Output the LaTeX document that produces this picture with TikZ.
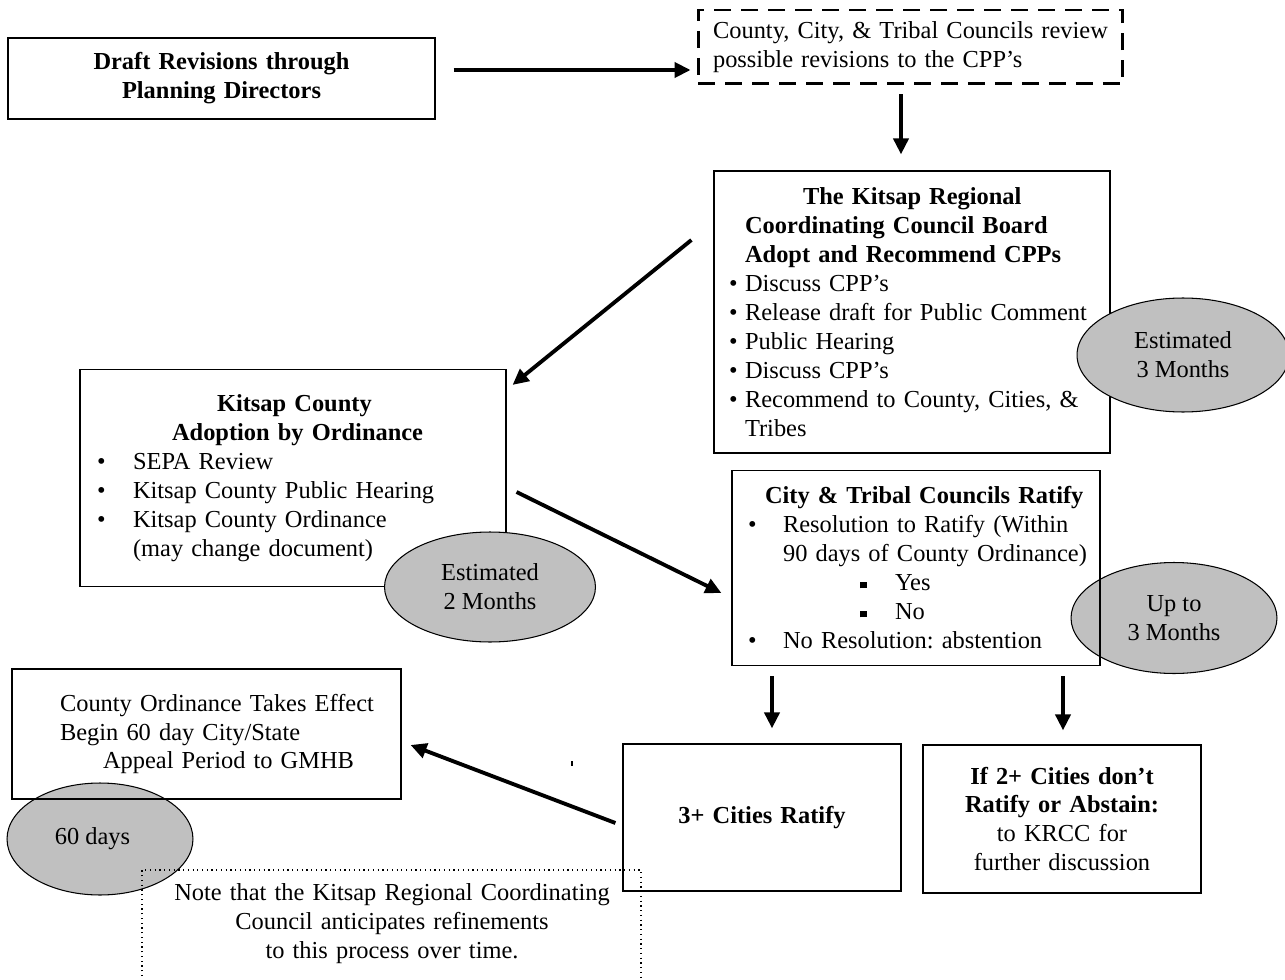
\documentclass[tikz,border=0pt]{standalone}
\usepackage{fontspec}
\setmainfont{Liberation Serif}
\usetikzlibrary{arrows.meta,shapes.geometric}
\definecolor{ovalgray}{HTML}{C0C0C0}
\newlength\px
\setlength\px{0.02cm}
\newcommand\pos[1]{\hspace*{#1\px}}
\newcommand\bul[2]{\hspace*{#1\px}\makebox[#2\px][l]{\textbullet}}
\newcommand\sqbul[2]{\hspace*{#1\px}\makebox[#2\px][l]{\rule[0.1em]{0.27em}{0.27em}}}
\frenchspacing

\begin{document}
\begin{tikzpicture}[x=0.02cm,y=-0.02cm,
   every node/.style={font=\fontsize{13.9}{16.5}\selectfont},
   box/.style={draw,line width=0.7pt,inner sep=0pt,align=left},
   cbox/.style={box,align=center},
   oval/.style={ellipse,draw,line width=0.6pt,fill=ovalgray,inner sep=0pt,align=center},
   flow/.style={line width=2.2pt,-{Triangle[length=0.32cm,width=0.3cm]}}]
   \useasboundingbox (0,0) rectangle (1285,980);

   \node [oval,minimum width=4.12cm,minimum height=2.22cm] (upto) at (1174,618) {Up to\\3 Months};
   \node [oval,minimum width=3.72cm,minimum height=2.24cm] (sixty) at (100,839) {60 days\hspace*{0.3cm}};

   \node [cbox,text width=8.54cm,minimum height=1.62cm] (draft) at (221.5,78.5)
      {\textbf{Draft Revisions through}\\\textbf{Planning Directors}};
   \node [box,text width=8.5cm,minimum height=1.48cm,line width=1.7pt,
          dash pattern=on 0.34cm off 0.2cm] (review) at (910.5,47)
      {\pos{15}County, City, \& Tribal Councils review\\
       \pos{15}possible revisions to the CPP’s};
   \node [box,text width=7.92cm,minimum height=5.64cm] (krcc) at (912,312)
      {\pos{89}\textbf{The Kitsap Regional}\\
       \pos{31}\textbf{Coordinating Council Board}\\
       \pos{31}\textbf{Adopt and Recommend CPPs}\\
       \bul{15}{16}Discuss CPP’s\\
       \bul{15}{16}Release draft for Public Comment\\
       \bul{15}{16}Public Hearing\\
       \bul{15}{16}Discuss CPP’s\\
       \bul{15}{16}Recommend to County, Cities, \&\\
       \pos{31}Tribes};
   \node [box,text width=8.52cm,minimum height=4.34cm] (kitsap) at (293,478)
      {\pos{137}\textbf{Kitsap County}\\
       \pos{92}\textbf{Adoption by Ordinance}\\
       \bul{17}{36}SEPA Review\\
       \bul{17}{36}Kitsap County Public Hearing\\
       \bul{17}{36}Kitsap County Ordinance\\
       \pos{53}(may change document)};
   \node [box,text width=7.36cm,minimum height=3.9cm] (city) at (916,568)
      {\pos{33}\textbf{City \& Tribal Councils Ratify}\\
       \bul{16}{35}Resolution to Ratify (Within\\
       \pos{51}90 days of County Ordinance)\\
       \sqbul{128}{35}Yes\\
       \sqbul{128}{35}No\\
       \bul{16}{35}No Resolution: abstention};
   \node [box,text width=7.78cm,minimum height=2.6cm] (ordin) at (206.5,734)
      {\pos{48}County Ordinance Takes Effect\\
       \pos{48}Begin 60 day City/State\\
       \pos{91}Appeal Period to GMHB};
   \node [cbox,text width=5.56cm,minimum height=2.94cm] (three) at (762,817.5)
      {\textbf{3+ Cities Ratify}};
   \node [cbox,text width=5.56cm,minimum height=2.96cm] (twoplus) at (1062,819)
      {\textbf{If 2+ Cities don’t}\\\textbf{Ratify or Abstain:}\\to KRCC for\\further discussion};

   \node [oval,minimum width=4.24cm,minimum height=2.28cm] (est3) at (1183,355) {Estimated\\3 Months};
   \node [oval,minimum width=4.22cm,minimum height=2.2cm] (est2) at (490,587) {Estimated\\2 Months};

   \node [text width=9.98cm,align=center,inner sep=0pt] (note) at (392,924)
      {Note that the Kitsap Regional Coordinating\\Council anticipates refinements\\to this process over time.};
   \draw [dotted,line width=0.7pt] (142,995) |- (641,870) -- (641,995);
   \draw [line width=0.6pt] (572,761) -- (572,766);

   \draw [flow] ([shift={(18,-8.5)}]draft.east) -- ([shift={(-6,23)}]review.west);
   \draw [flow] ([shift={(-9.5,9)}]review.south) -- ([shift={(-11,-16)}]krcc.north);
   \draw [flow] ([shift={(-22,-72)}]krcc.west) -- ([shift={(6,16)}]kitsap.north east);
   \draw [flow] ([shift={(10,14)}]kitsap.east) -- ([shift={(-10,25)}]city.west);
   \draw [flow] ([shift={(-144,10)}]city.south) -- ([shift={(10,-15)}]three.north);
   \draw [flow] ([shift={(147,10)}]city.south) -- ([shift={(1,-14)}]twoplus.north);
   \draw [flow] ([shift={(-7,5.5)}]three.west) -- ([shift={(9,11)}]ordin.east);
\end{tikzpicture}
\end{document}
